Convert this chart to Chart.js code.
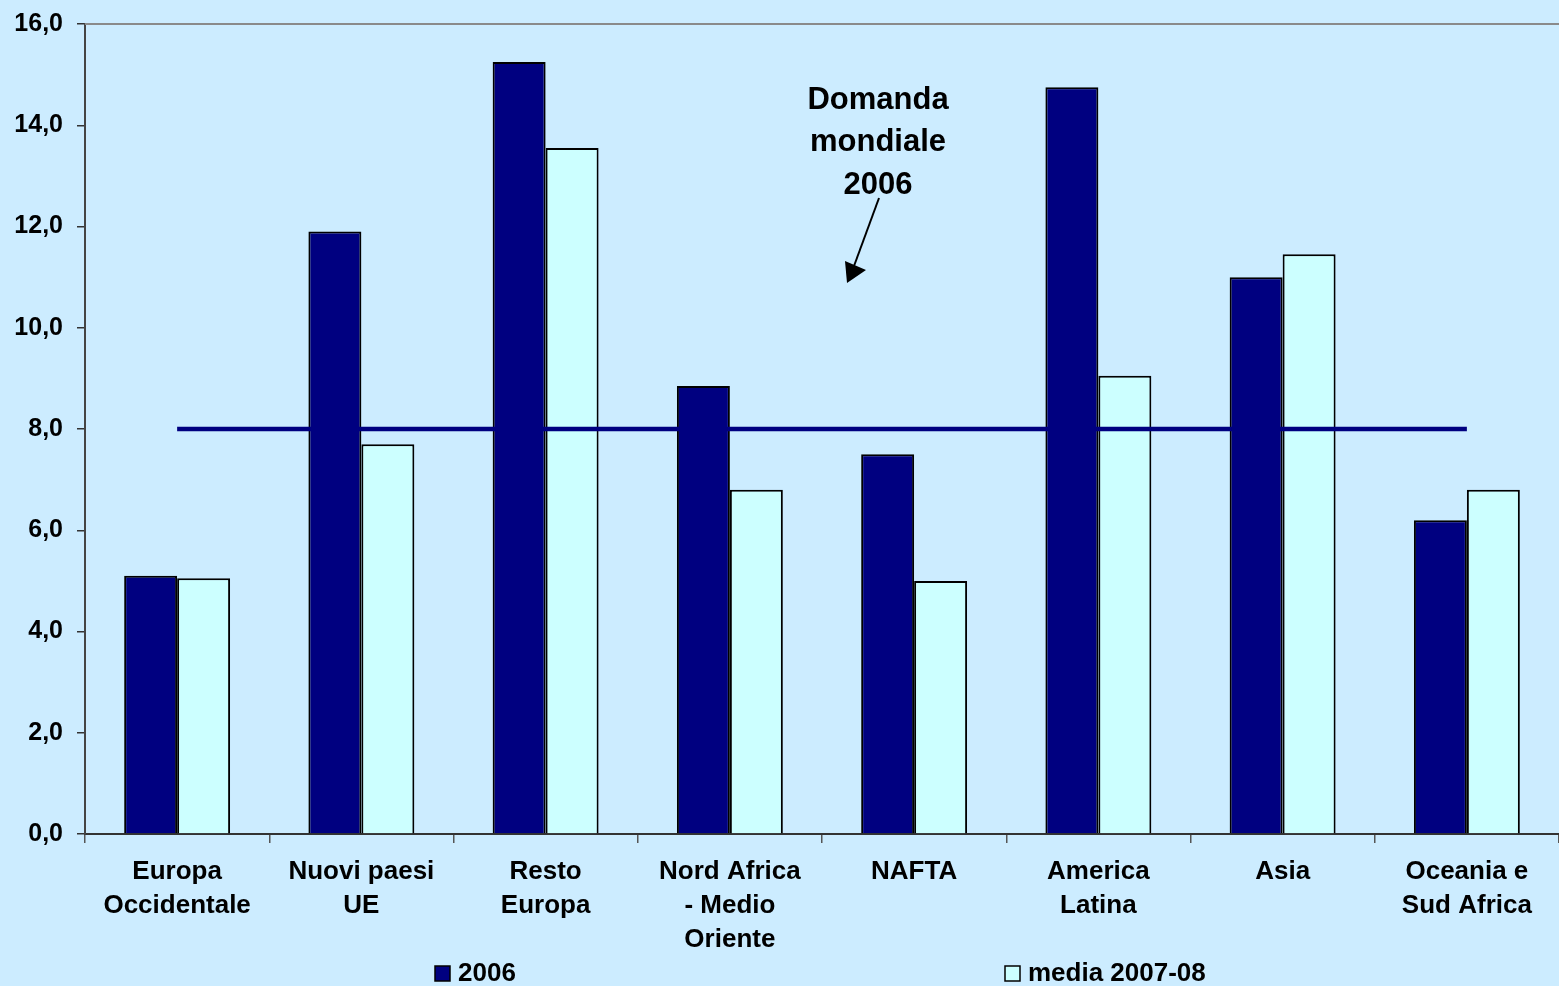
<!DOCTYPE html>
<html>
<head>
<meta charset="utf-8">
<script src="https://cdn.jsdelivr.net/npm/chart.js@4/dist/chart.umd.min.js"></script>
<style>
  html, body { margin: 0; padding: 0; background: #CCECFF; overflow: hidden; }
  #wrap { width: 1559px; height: 986px; }
</style>
</head>
<body>
<div id="wrap"><canvas id="bars"></canvas></div>
<script>
var regions = [
    ['Europa', 'Occidentale'],
    ['Nuovi paesi', 'UE'],
    ['Resto', 'Europa'],
    ['Nord Africa', '- Medio', 'Oriente'],
    ['NAFTA'],
    ['America', 'Latina'],
    ['Asia'],
    ['Oceania e', 'Sud Africa']
];
var demand2006 = [5.1, 11.9, 15.25, 8.85, 7.5, 14.75, 11.0, 6.2];
var demand0708 = [5.05, 7.7, 13.55, 6.8, 5.0, 9.05, 11.45, 6.8];
var worldDemand = [8.0, 8.0, 8.0, 8.0, 8.0, 8.0, 8.0, 8.0];
var yTicks = [0, 2, 4, 6, 8, 10, 12, 14, 16];

var navy = '#000080';
var cyan = '#CCFFFF';
var font = 'Arial, "Liberation Sans", sans-serif';

// frame, annotation and legend drawn by hand
var extras = {
    id: 'extras',
    afterDraw: function (chart) {
        var c = chart.ctx;
        var a = chart.chartArea;
        c.save();
        // top border of plot area
        c.strokeStyle = '#8a8a8a';
        c.lineWidth = 2;
        c.beginPath();
        c.moveTo(a.left, a.top);
        c.lineTo(a.right, a.top);
        c.stroke();

        // annotation
        c.fillStyle = '#000';
        c.font = 'bold 31px ' + font;
        c.textAlign = 'center';
        c.textBaseline = 'middle';
        c.fillText('Domanda', 878, 100);
        c.fillText('mondiale', 878, 142);
        c.fillText('2006', 878, 185);
        c.strokeStyle = '#000';
        c.lineWidth = 2;
        c.beginPath();
        c.moveTo(879, 198);
        c.lineTo(854, 266);
        c.stroke();
        c.beginPath();
        c.moveTo(847, 283);
        c.lineTo(845, 261);
        c.lineTo(866, 270);
        c.closePath();
        c.fill();

        // legend
        var items = [
            { x: 435, ds: chart.data.datasets[0] },
            { x: 1005, ds: chart.data.datasets[1] }
        ];
        c.font = 'bold 26px ' + font;
        c.textAlign = 'left';
        items.forEach(function (it) {
            c.fillStyle = it.ds.backgroundColor;
            c.fillRect(it.x, 966, 15, 15);
            c.strokeStyle = '#000';
            c.lineWidth = 1.5;
            c.strokeRect(it.x, 966, 15, 15);
            c.fillStyle = '#000';
            c.fillText(it.ds.label, it.x + 23, 974);
        });
        c.restore();
    }
};

var ctx = document.getElementById('bars').getContext('2d');
var myChart = new Chart(ctx, {
    type: 'bar',
    data: {
        labels: regions,
        datasets: [{
            label: '2006',
            data: demand2006,
            backgroundColor: navy,
            borderColor: '#000',
            borderWidth: 2,
            categoryPercentage: 0.575,
            barPercentage: 1.0,
            order: 1
        }, {
            label: 'media 2007-08',
            data: demand0708,
            backgroundColor: cyan,
            borderColor: '#000',
            borderWidth: 2,
            categoryPercentage: 0.575,
            barPercentage: 1.0,
            order: 1
        }, {
            type: 'line',
            label: 'Domanda mondiale 2006',
            data: worldDemand,
            borderColor: navy,
            borderWidth: 4.5,
            pointRadius: 0,
            fill: false,
            order: 0
        }]
    },
    options: {
        responsive: true,
        maintainAspectRatio: false,
        animation: false,
        layout: { padding: { top: 24, right: -5, left: 0, bottom: 0 } },
        plugins: {
            legend: { display: false },
            tooltip: { enabled: false }
        },
        scales: {
            x: {
                offset: true,
                grid: {
                    offset: true,
                    drawOnChartArea: false,
                    tickLength: 9,
                    color: '#555',
                    lineWidth: 1.5
                },
                border: { color: '#333', width: 2 },
                ticks: {
                    color: '#000',
                    font: { family: font, size: 26, weight: 'bold', lineHeight: 1.31 },
                    padding: 12,
                    maxRotation: 0,
                    autoSkip: false
                },
                afterFit: function (scale) {
                    scale.height = 152;
                    scale.paddingLeft = 0;
                    scale.paddingRight = 0;
                }
            },
            y: {
                min: 0,
                max: 16,
                afterBuildTicks: function (scale) {
                    scale.ticks = yTicks.map(function (v) { return { value: v }; });
                },
                grid: {
                    drawOnChartArea: false,
                    tickLength: 8,
                    color: '#333',
                    lineWidth: 1.5
                },
                border: { color: '#444', width: 2 },
                ticks: {
                    color: '#000',
                    font: { family: font, size: 25, weight: 'bold' },
                    padding: 14,
                    callback: function (v) { return v.toFixed(1).replace('.', ','); }
                },
                afterFit: function (scale) {
                    scale.width = 85;
                    scale.paddingTop = 0;
                    scale.paddingBottom = 0;
                }
            }
        }
    },
    plugins: [extras]
});
</script>
</body>
</html>
